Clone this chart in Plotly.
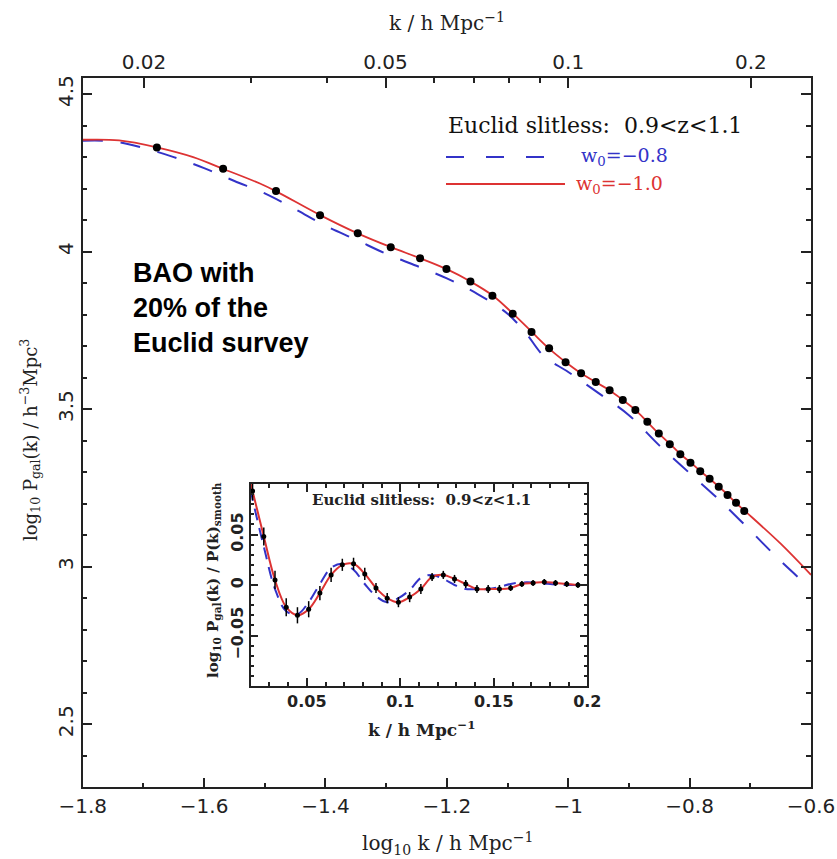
import numpy as np
import plotly.graph_objects as go

W, H = 837, 859

# ---------------------------------------------------------------
# Binned galaxy power spectrum (0.9<z<1.1), fiducial w0 = -1.0
# ---------------------------------------------------------------
k_bins = [0.021, 0.027, 0.033, 0.039, 0.045, 0.051, 0.057, 0.063, 0.069, 0.075,
          0.081, 0.087, 0.093, 0.099, 0.105, 0.111, 0.117, 0.123, 0.129, 0.135,
          0.141, 0.147, 0.153, 0.159, 0.165, 0.171, 0.177, 0.183, 0.189, 0.195]
logP_bins = [4.330, 4.263, 4.192, 4.115, 4.058, 4.014, 3.979, 3.945, 3.905, 3.860,
             3.803, 3.745, 3.693, 3.649, 3.614, 3.586, 3.560, 3.529, 3.497, 3.460,
             3.423, 3.389, 3.357, 3.330, 3.303, 3.279, 3.254, 3.228, 3.203, 3.177]
sigma_bins = [0.009, 0.009, 0.009, 0.009, 0.008, 0.008, 0.007, 0.007, 0.006, 0.006,
              0.006, 0.005, 0.005, 0.005, 0.005, 0.005, 0.004, 0.004, 0.004, 0.004,
              0.004, 0.004, 0.004, 0.003, 0.003, 0.003, 0.003, 0.003, 0.003, 0.003]
# same bins divided by the no-wiggle spectrum
wiggle_bins = [0.093, 0.048, 0.005, -0.022, -0.030, -0.024, -0.008, 0.010, 0.020, 0.021,
               0.011, -0.003, -0.013, -0.017, -0.012, -0.004, 0.008, 0.010, 0.006, 0.001,
               -0.004, -0.004, -0.004, -0.003, 0.001, 0.002, 0.003, 0.002, 0.001, 0.000]

# ---------------------------------------------------------------
# Model spectra, log10 k grid
# ---------------------------------------------------------------
logk_w10 = [-1.800, -1.740, -1.678, -1.618, -1.569, -1.508, -1.482, -1.408, -1.347, -1.292,
            -1.244, -1.201, -1.161, -1.124, -1.091, -1.060, -1.032, -1.004, -0.979, -0.955,
            -0.932, -0.910, -0.889, -0.870, -0.851, -0.832, -0.815, -0.798, -0.782, -0.767,
            -0.752, -0.737, -0.724, -0.709, -0.650, -0.600]
logP_w10 = [4.355, 4.353, 4.331, 4.300, 4.263, 4.216, 4.192, 4.115, 4.058, 4.014,
            3.979, 3.945, 3.905, 3.860, 3.803, 3.745, 3.693, 3.649, 3.614, 3.586,
            3.560, 3.529, 3.497, 3.460, 3.423, 3.389, 3.357, 3.330, 3.303, 3.279,
            3.254, 3.228, 3.203, 3.177, 3.073, 2.974]

logk_w08 = [-1.80, -1.75, -1.70, -1.65, -1.60, -1.55, -1.50, -1.45, -1.40, -1.35,
            -1.30, -1.25, -1.20, -1.15, -1.10, -1.07, -1.04, -1.00, -0.95, -0.90,
            -0.85, -0.80, -0.75, -0.70, -0.65, -0.60]
logP_w08 = [4.352, 4.350, 4.329, 4.300, 4.265, 4.224, 4.185, 4.135, 4.082, 4.038,
            3.993, 3.955, 3.915, 3.866, 3.803, 3.742, 3.668, 3.618, 3.551, 3.481,
            3.385, 3.297, 3.210, 3.115, 3.018, 2.930]

# BAO wiggle models (k in h/Mpc)
k_wig = [0.020, 0.021, 0.027, 0.033, 0.039, 0.045, 0.051, 0.057, 0.063, 0.069, 0.075,
         0.081, 0.087, 0.093, 0.099, 0.105, 0.111, 0.117, 0.123, 0.129, 0.135,
         0.141, 0.147, 0.153, 0.159, 0.165, 0.171, 0.177, 0.183, 0.189, 0.195, 0.200]
wig_w10 = [0.100, 0.093, 0.048, 0.005, -0.022, -0.030, -0.024, -0.008, 0.010, 0.020, 0.021,
           0.011, -0.003, -0.013, -0.017, -0.012, -0.004, 0.008, 0.010, 0.006, 0.001,
           -0.004, -0.004, -0.004, -0.003, 0.001, 0.002, 0.003, 0.002, 0.001, 0.000, 0.000]
wig_w08 = [0.095, 0.085, 0.038, -0.004, -0.026, -0.029, -0.017, 0.001, 0.017, 0.021, 0.015,
           0.001, -0.011, -0.017, -0.013, -0.005, 0.007, 0.010, 0.006, 0.000, -0.004,
           -0.004, -0.004, -0.002, 0.001, 0.0025, 0.0025, 0.0015, 0.0005, 0.000, 0.000, 0.000]

# axis ticks
x_ticks = [-1.8, -1.6, -1.4, -1.2, -1.0, -0.8, -0.6]
x_ticktext = ["\u22121.8", "\u22121.6", "\u22121.4", "\u22121.2", "\u22121", "\u22120.8", "\u22120.6"]
k_ticks = [0.02, 0.05, 0.1, 0.2]
k_ticktext = ["0.02", "0.05", "0.1", "0.2"]
k_minor = [0.03, 0.04, 0.06, 0.07, 0.08, 0.09]
y_ticks = [2.5, 3.0, 3.5, 4.0, 4.5]
y_ticktext = ["2.5", "3", "3.5", "4", "4.5"]
ins_x_ticks = [0.05, 0.1, 0.15, 0.2]
ins_x_ticktext = ["0.05", "0.1", "0.15", "0.2"]
ins_y_ticks = [-0.05, 0.0, 0.05]
ins_y_ticktext = ["\u22120.05", "0", "0.05"]

RED = "#dd3333"
BLUE = "#3333c8"
AX = "#222222"
SERIF = "DejaVu Serif"
SANS = "DejaVu Sans"


def px(x):
    return x / W


def py(y):
    return 1 - y / H


fig = go.Figure()

# main panel
fig.add_trace(go.Scatter(x=logk_w08, y=logP_w08, mode="lines", line_shape="spline",
                         line=dict(color=BLUE, width=2, dash="20px,18px"),
                         hoverinfo="skip", showlegend=False, xaxis="x", yaxis="y"))
fig.add_trace(go.Scatter(x=logk_w10, y=logP_w10, mode="lines", line_shape="spline",
                         line=dict(color=RED, width=1.8),
                         hoverinfo="skip", showlegend=False, xaxis="x", yaxis="y"))
fig.add_trace(go.Scatter(x=np.log10(k_bins), y=logP_bins, mode="markers",
                         marker=dict(color="black", size=8),
                         error_y=dict(type="data", array=sigma_bins, color="black",
                                      thickness=1.5, width=0),
                         showlegend=False, xaxis="x", yaxis="y"))
# carrier for the top k axis
fig.add_trace(go.Scatter(x=[k_ticks[0], k_ticks[-1]], y=[3.0, 3.0], mode="markers",
                         marker=dict(opacity=0), hoverinfo="skip", showlegend=False,
                         xaxis="x2", yaxis="y"))

# inset panel
fig.add_trace(go.Scatter(x=k_wig, y=wig_w08, mode="lines", line_shape="spline",
                         line=dict(color=BLUE, width=2, dash="12px,8px"),
                         hoverinfo="skip", showlegend=False, xaxis="x3", yaxis="y3"))
fig.add_trace(go.Scatter(x=k_wig, y=wig_w10, mode="lines", line_shape="spline",
                         line=dict(color=RED, width=2),
                         hoverinfo="skip", showlegend=False, xaxis="x3", yaxis="y3"))
fig.add_trace(go.Scatter(x=k_bins, y=wiggle_bins, mode="markers",
                         marker=dict(color="black", size=5),
                         error_y=dict(type="data", array=sigma_bins, color="black",
                                      thickness=1.5, width=0),
                         cliponaxis=True, showlegend=False, xaxis="x3", yaxis="y3"))

tick_common = dict(ticks="inside", tickcolor=AX, tickwidth=1.5, showline=True,
                   linecolor=AX, linewidth=1.5, showgrid=False, zeroline=False,
                   automargin=False)

fig.update_layout(
    width=W, height=H,
    margin=dict(l=0, r=0, t=0, b=0, pad=0, autoexpand=False),
    paper_bgcolor="white", plot_bgcolor="white",
    xaxis=dict(domain=[px(82.7), px(811)], range=[-1.8, -0.6], anchor="y",
               tickmode="array", tickvals=x_ticks, ticktext=x_ticktext, ticklen=10,
               tickfont=dict(family=SANS, size=20, color=AX), mirror=False,
               minor=dict(ticks="inside", ticklen=5, tick0=-1.8, dtick=0.1,
                          tickcolor=AX, tickwidth=1.5),
               **tick_common),
    xaxis2=dict(overlaying="x", side="top", type="log", range=[-1.8, -0.6], anchor="y",
                tickmode="array", tickvals=k_ticks, ticktext=k_ticktext, ticklen=10,
                tickfont=dict(family=SANS, size=20, color=AX),
                minor=dict(ticks="inside", ticklen=5, tickmode="array", tickvals=k_minor,
                           tickcolor=AX, tickwidth=1.5),
                **tick_common),
    yaxis=dict(domain=[py(787.3), py(78.3)], range=[2.3, 4.55], anchor="x",
               tickmode="array", tickvals=y_ticks, ticktext=y_ticktext, ticklen=10,
               tickangle=-90, mirror="ticks",
               tickfont=dict(family=SANS, size=20, color=AX),
               minor=dict(ticks="inside", ticklen=5, tick0=2.3, dtick=0.1,
                          tickcolor=AX, tickwidth=1.5),
               **tick_common),
    xaxis3=dict(domain=[px(250.7), px(587.3)], range=[0.02, 0.2], anchor="y3",
                tickmode="array", tickvals=ins_x_ticks, ticktext=ins_x_ticktext, ticklen=8,
                mirror="ticks",
                tickfont=dict(family=SANS, size=16, color=AX, weight="bold"),
                minor=dict(ticks="inside", ticklen=4, tick0=0, dtick=0.01,
                           tickcolor=AX, tickwidth=1.5),
                **tick_common),
    yaxis3=dict(domain=[py(686), py(484)], range=[-0.1, 0.1], anchor="x3",
                tickmode="array", tickvals=ins_y_ticks, ticktext=ins_y_ticktext, ticklen=8,
                tickangle=-90, mirror="ticks",
                tickfont=dict(family=SANS, size=16, color=AX, weight="bold"),
                minor=dict(ticks="inside", ticklen=4, tick0=0, dtick=0.01,
                           tickcolor=AX, tickwidth=1.5),
                **tick_common),
)

ann = []
title_font = dict(family=SERIF, size=20, color=AX)
ann.append(dict(text="k / h Mpc<sup>\u22121</sup>", x=px(447), y=py(22),
                font=title_font))
ann.append(dict(text="log<sub>10</sub> k / h Mpc<sup>\u22121</sup>", x=px(447), y=py(843),
                font=title_font))
ann.append(dict(text="log<sub>10</sub> P<sub>gal</sub>(k) / h<sup>\u22123</sup>Mpc<sup>3</sup>",
                x=px(30), y=py(440), textangle=-90,
                font=dict(family=SERIF, size=18, color=AX)))

# legend block
ann.append(dict(text="Euclid slitless:  0.9<z<1.1", x=px(446), y=py(125),
                xanchor="left", font=dict(family=SERIF, size=22, color="#111111")))
ann.append(dict(text="w<sub>0</sub>=\u22120.8", x=px(579), y=py(157), xanchor="left",
                font=dict(family=SERIF, size=19, color=BLUE)))
ann.append(dict(text="w<sub>0</sub>=\u22121.0", x=px(574), y=py(184), xanchor="left",
                font=dict(family=SERIF, size=19, color=RED)))

# survey note
ann.append(dict(text="BAO with<br>20% of the<br>Euclid survey", x=px(131), y=py(256),
                xanchor="left", yanchor="top", align="left",
                font=dict(family="Liberation Sans", size=27, color="black", weight="bold")))

# inset labels
ann.append(dict(text="Euclid slitless:  0.9<z<1.1", x=px(422), y=py(500),
                font=dict(family=SERIF, size=15, color=AX, weight="bold")))
ann.append(dict(text="k / h Mpc<sup>\u22121</sup>", x=px(421), y=py(729),
                font=dict(family=SERIF, size=17, color=AX, weight="bold")))
ann.append(dict(text="log<sub>10</sub> P<sub>gal</sub>(k) / P(k)<sub>smooth</sub>",
                x=px(213), y=py(580), textangle=-90,
                font=dict(family=SERIF, size=15, color=AX, weight="bold")))

for a in ann:
    a.setdefault("xref", "paper")
    a.setdefault("yref", "paper")
    a.setdefault("showarrow", False)
    a.setdefault("xanchor", "center")
    a.setdefault("yanchor", "middle")
fig.update_layout(annotations=ann)

# legend keys
fig.update_layout(shapes=[
    dict(type="line", xref="paper", yref="paper", x0=px(446), x1=px(548),
         y0=py(157), y1=py(157), line=dict(color=BLUE, width=2, dash="18px,22px")),
    dict(type="line", xref="paper", yref="paper", x0=px(446), x1=px(565),
         y0=py(184), y1=py(184), line=dict(color=RED, width=2)),
])

fig.write_html("out.html")
